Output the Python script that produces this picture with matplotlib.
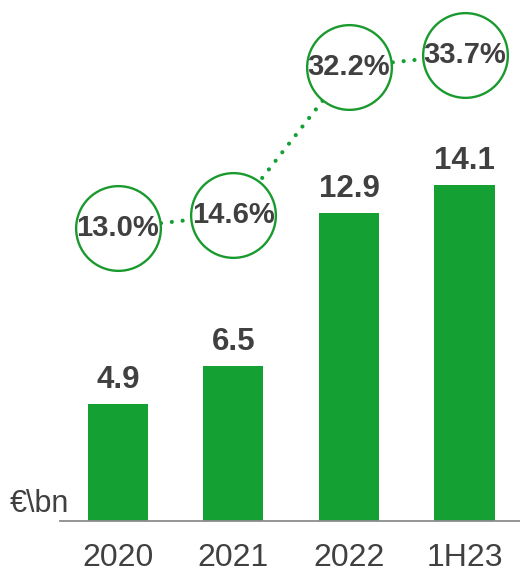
import numpy as np
import matplotlib.pyplot as plt

plt.rcParams['font.family'] = ['Liberation Sans', 'DejaVu Sans']

periods = ['2020', '2021', '2022', '1H23']
values = [4.9, 6.5, 12.9, 14.1]
shares = [13.0, 14.6, 32.2, 33.7]
value_labels = ['4.9', '6.5', '12.9', '14.1']
share_labels = ['13.0%', '14.6%', '32.2%', '33.7%']

green = '#14a032'
text_col = '#404040'

fig = plt.figure(figsize=(5.2, 5.73), dpi=100)
ax = fig.add_axes([60 / 520, 52 / 573, 460 / 520, 521 / 573])

x = np.arange(len(periods))
bars = ax.bar(x, values, width=0.52, color=green, zorder=2)
for b, lab in zip(bars, value_labels):
    ax.annotate(lab, (b.get_x() + b.get_width() / 2, b.get_height()),
                xytext=(0, 11.5), textcoords='offset points',
                ha='center', va='baseline', fontsize=22.5, fontweight='bold',
                color=text_col)

ax.set_xlim(-0.5, 3.48)
ax.set_ylim(0, 21.85)
ax.set_xticks(x)
ax.set_xticklabels(periods, fontsize=23, color=text_col)
ax.tick_params(axis='x', length=0, pad=16)
ax.set_yticks([])
for s in ['top', 'left', 'right']:
    ax.spines[s].set_visible(False)
ax.spines['bottom'].set_color('#8c8c8c')
ax.spines['bottom'].set_linewidth(1.3)

# share line on a second scale
ax2 = ax.twinx()
ax2.set_ylim(-21.9, 40.2)
ax2.axis('off')
ax2.plot(x, shares, color=green, linewidth=3, linestyle=(0, (0.01, 2.6)),
         dash_capstyle='round', zorder=1)
ax2.plot(x, shares, linestyle='none', marker='o', markersize=61,
         markerfacecolor='white', markeredgecolor='#1a9a2e',
         markeredgewidth=1.7, zorder=2)
for xi, s, lab in zip(x, shares, share_labels):
    ax2.text(xi, s, lab, ha='center', va='center', fontsize=21,
             fontweight='bold', color=text_col, zorder=3)

fig.text(10 / 520, (573 - 512) / 573, '€\\bn', fontsize=22, color=text_col,
         ha='left', va='baseline')

fig.savefig('out.png', dpi=100)
